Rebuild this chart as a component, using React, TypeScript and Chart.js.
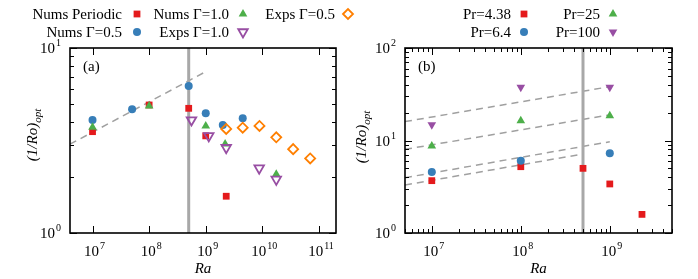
import React, { useEffect, useRef } from 'react';
import { Chart, registerables } from 'chart.js';
import { drawPoint } from 'chart.js/helpers';

Chart.register(...registerables);

const RED = '#e41a1c';
const BLUE = '#377eb8';
const GREEN = '#4daf4a';
const PURPLE = '#984ea3';
const ORANGE = '#ff7f00';
const GRAY = '#a8a8a8';
const DASH = '#a0a0a0';
const FONT = '"Liberation Serif", "Times New Roman", serif';

// ---------- Panel (a) data ----------
const aPeriodicRa = [1e7, 1e8, 5e8, 1e9, 2.3e9];
const aPeriodicRo = [3.53, 4.92, 4.72, 3.35, 1.58];
const aNumsG05Ra = [1e7, 5e7, 5e8, 1e9, 2e9, 4.5e9];
const aNumsG05Ro = [4.08, 4.66, 6.23, 4.44, 3.84, 4.17];
const aNumsG10Ra = [1e7, 1e8, 1e9, 2.2e9, 1.76e10];
const aNumsG10Ro = [3.73, 4.86, 3.79, 3.03, 2.08];
const aExpsG10Ra = [5.6e8, 1.13e9, 2.3e9, 8.8e9, 1.76e10];
const aExpsG10Ro = [4.08, 3.35, 2.89, 2.24, 1.95];
const aExpsG05Ra = [2.3e9, 4.5e9, 8.9e9, 1.76e10, 3.5e10, 7e10];
const aExpsG05Ro = [3.65, 3.71, 3.79, 3.29, 2.84, 2.53];
const aFitRa = [4e6, 9.2e8];
const aFitRo = [3.02, 7.35];
const aXRange = [4e6, 2e11];
const aYRange = [1, 10];
const aXExps = [7, 8, 9, 10, 11];
const aYExps = [0, 1];

// ---------- Panel (b) data ----------
const bPr438Ra = [1e7, 1e8, 5e8, 1e9, 2.3e9];
const bPr438Ro = [3.68, 5.21, 5.0, 3.39, 1.59];
const bRa = [1e7, 1e8, 1e9];
const bPr64Ro = [4.57, 6.05, 7.27];
const bPr25Ro = [8.72, 16.3, 18.5];
const bPr100Ro = [14.8, 37.6, 37.6];
const bFit1Ra = [5e6, 1e9];
const bFit1Ro = [16.0, 38.2];
const bFit2Ra = [5e6, 1e9];
const bFit2Ro = [8.03, 18.9];
const bFit3Ra = [5e6, 1e9];
const bFit3Ro = [3.96, 9.7];
const bFit4Ra = [5e6, 5e8];
const bFit4Ro = [3.3, 7.15];
const bXRange = [5e6, 5e9];
const bYRange = [1, 100];
const bXExps = [7, 8, 9];
const bYExps = [0, 1, 2];

const RaCrit = 5e8;

function pts(ra: number[], ro: number[]) {
  return ra.map((x, i) => ({ x, y: ro[i] }));
}

function marker(label: string, ra: number[], ro: number[], color: string, style: string, rot: number, radius: number, open: boolean, order: number) {
  return {
    label,
    data: pts(ra, ro),
    order,
    showLine: false,
    pointStyle: style,
    pointRotation: rot,
    pointRadius: radius,
    pointHoverRadius: radius,
    pointBackgroundColor: open ? 'rgba(0,0,0,0)' : color,
    pointBorderColor: color,
    pointBorderWidth: open ? 1.8 : 0,
    backgroundColor: open ? 'rgba(0,0,0,0)' : color,
    borderColor: color,
  };
}

function lineDs(ra: number[], ro: number[], color: string, width: number, dash: number[], order: number) {
  return {
    label: '',
    data: pts(ra, ro),
    order,
    showLine: true,
    pointRadius: 0,
    pointHoverRadius: 0,
    borderColor: color,
    borderWidth: width,
    borderDash: dash,
    backgroundColor: color,
  };
}

type Slot = { ds: number; tx: number; mx: number; y: number };
type Decor = {
  xExps: number[];
  yExps: number[];
  xMinor: boolean;
  yMinor: boolean;
  panel: string;
  yTitleX: number;
  yTitleY: number;
  legend: Slot[];
};

function decorPlugin(d: Decor) {
  return {
    id: 'decor',
    afterDraw(chart: any) {
      const ctx: CanvasRenderingContext2D = chart.ctx;
      const a = chart.chartArea;
      const xs = chart.scales.x;
      const ys = chart.scales.y;
      ctx.save();
      ctx.fillStyle = '#000';
      ctx.strokeStyle = '#000';
      ctx.lineWidth = 1;
      const seg = (x1: number, y1: number, x2: number, y2: number) => {
        ctx.beginPath();
        ctx.moveTo(x1, y1);
        ctx.lineTo(x2, y2);
        ctx.stroke();
      };
      const snap = (v: number) => Math.round(v) + 0.5;
      // x ticks
      const xlo = Math.floor(Math.log10(xs.min));
      const xhi = Math.ceil(Math.log10(xs.max));
      for (let n = xlo; n <= xhi; n++) {
        for (let m = 1; m <= 9; m++) {
          if (m > 1 && !d.xMinor) continue;
          const v = m * Math.pow(10, n);
          if (v < xs.min * 0.9999 || v > xs.max * 1.0001) continue;
          const px = snap(xs.getPixelForValue(v));
          const len = m === 1 ? 7 : 4;
          seg(px, a.bottom, px, a.bottom - len);
          seg(px, a.top, px, a.top + len);
        }
      }
      const ylo = Math.floor(Math.log10(ys.min));
      const yhi = Math.ceil(Math.log10(ys.max));
      for (let n = ylo; n <= yhi; n++) {
        for (let m = 1; m <= 9; m++) {
          if (m > 1 && !d.yMinor) continue;
          const v = m * Math.pow(10, n);
          if (v < ys.min * 0.9999 || v > ys.max * 1.0001) continue;
          const py = snap(ys.getPixelForValue(v));
          const len = m === 1 ? 7 : 4;
          seg(a.left, py, a.left + len, py);
          seg(a.right, py, a.right - len, py);
        }
      }
      // border
      ctx.lineWidth = 1.6;
      ctx.strokeRect(a.left, a.top, a.right - a.left, a.bottom - a.top);

      // tick labels
      const pow = (exp: number, x: number, y: number, align: string) => {
        ctx.font = `15px ${FONT}`;
        const w1 = ctx.measureText('10').width;
        ctx.font = `10px ${FONT}`;
        const w2 = ctx.measureText(String(exp)).width;
        const total = w1 + 1 + w2;
        const sx = align === 'center' ? x - total / 2 : x - total;
        ctx.textAlign = 'left';
        ctx.textBaseline = 'alphabetic';
        ctx.font = `15px ${FONT}`;
        ctx.fillText('10', sx, y);
        ctx.font = `10px ${FONT}`;
        ctx.fillText(String(exp), sx + w1 + 1, y - 7);
      };
      d.xExps.forEach((e) => {
        const px = xs.getPixelForValue(Math.pow(10, e));
        pow(e, px + 2, a.bottom + 23, 'center');
      });
      d.yExps.forEach((e) => {
        const py = ys.getPixelForValue(Math.pow(10, e));
        pow(e, a.left - 9, py + 5, 'right');
      });

      // panel letter
      ctx.font = `15px ${FONT}`;
      ctx.textAlign = 'left';
      ctx.fillText(d.panel, a.left + 13, a.top + 23);

      // x title
      ctx.font = `italic 15px ${FONT}`;
      ctx.textAlign = 'center';
      ctx.fillText('Ra', (a.left + a.right) / 2, 273);

      // y title
      ctx.save();
      ctx.translate(d.yTitleX, d.yTitleY);
      ctx.rotate(-Math.PI / 2);
      ctx.textAlign = 'left';
      ctx.font = `italic 15px ${FONT}`;
      const t1 = '(1/Ro)';
      const w1 = ctx.measureText(t1).width;
      ctx.font = `italic 11px ${FONT}`;
      const w2 = ctx.measureText('opt').width;
      const tot = w1 + w2;
      ctx.font = `italic 15px ${FONT}`;
      ctx.fillText(t1, -tot / 2, 5);
      ctx.font = `italic 11px ${FONT}`;
      ctx.fillText('opt', -tot / 2 + w1, 9);
      ctx.restore();

      // legend
      d.legend.forEach((s) => {
        const ds = chart.data.datasets[s.ds];
        ctx.font = `15px ${FONT}`;
        ctx.textAlign = 'right';
        ctx.fillStyle = '#000';
        ctx.fillText(ds.label, s.tx, s.y + 5);
        ctx.fillStyle = ds.pointBackgroundColor;
        ctx.strokeStyle = ds.pointBorderColor;
        ctx.lineWidth = ds.pointBorderWidth;
        drawPoint(ctx, {
          pointStyle: ds.pointStyle,
          rotation: ds.pointRotation,
          radius: ds.pointRadius,
          borderWidth: ds.pointBorderWidth,
        } as any, s.mx, s.y);
      });
      ctx.restore();
    },
  };
}

function baseOptions(xr: number[], yr: number[], padding: any) {
  return {
    responsive: false,
    animation: false as const,
    devicePixelRatio: 1,
    layout: { padding },
    plugins: { legend: { display: false }, tooltip: { enabled: false } },
    events: [] as any[],
    scales: {
      x: { type: 'logarithmic' as const, min: xr[0], max: xr[1], display: false },
      y: { type: 'logarithmic' as const, min: yr[0], max: yr[1], display: false },
    },
  };
}

function buildA(): any {
  const datasets = [
    marker('Nums Periodic', aPeriodicRa, aPeriodicRo, RED, 'rect', 0, 4.8, false, 5),
    marker('Nums Γ=1.0', aNumsG10Ra, aNumsG10Ro, GREEN, 'triangle', 0, 5, false, 3),
    marker('Exps Γ=0.5', aExpsG05Ra, aExpsG05Ro, ORANGE, 'rectRot', 0, 5, true, 1),
    marker('Nums Γ=0.5', aNumsG05Ra, aNumsG05Ro, BLUE, 'circle', 0, 4, false, 4),
    marker('Exps Γ=1.0', aExpsG10Ra, aExpsG10Ro, PURPLE, 'triangle', 180, 5.5, true, 2),
    lineDs([RaCrit, RaCrit], aYRange, GRAY, 3, [], 20),
    lineDs(aFitRa, aFitRo, DASH, 1.5, [7, 5], 21),
  ];
  return {
    type: 'scatter',
    data: { datasets },
    options: baseOptions(aXRange, aYRange, { left: 70, right: 24, top: 48, bottom: 46 }),
    plugins: [
      decorPlugin({
        xExps: aXExps,
        yExps: aYExps,
        xMinor: false,
        yMinor: true,
        panel: '(a)',
        yTitleX: 32,
        yTitleY: 135,
        legend: [
          { ds: 0, tx: 122, mx: 137, y: 14 },
          { ds: 1, tx: 229, mx: 243, y: 14 },
          { ds: 2, tx: 335, mx: 348, y: 14 },
          { ds: 3, tx: 122, mx: 137, y: 32 },
          { ds: 4, tx: 229, mx: 243, y: 32 },
        ],
      }),
    ],
  };
}

function buildB(): any {
  const datasets = [
    marker('Pr=4.38', bPr438Ra, bPr438Ro, RED, 'rect', 0, 4.8, false, 4),
    marker('Pr=25', bRa, bPr25Ro, GREEN, 'triangle', 0, 5, false, 2),
    marker('Pr=6.4', bRa, bPr64Ro, BLUE, 'circle', 0, 4, false, 3),
    marker('Pr=100', bRa, bPr100Ro, PURPLE, 'triangle', 180, 5, false, 1),
    lineDs([RaCrit, RaCrit], bYRange, GRAY, 3, [], 20),
    lineDs(bFit1Ra, bFit1Ro, DASH, 1.5, [7, 5], 21),
    lineDs(bFit2Ra, bFit2Ro, DASH, 1.5, [7, 5], 22),
    lineDs(bFit3Ra, bFit3Ro, DASH, 1.5, [7, 5], 23),
    lineDs(bFit4Ra, bFit4Ro, DASH, 1.5, [7, 5], 24),
  ];
  return {
    type: 'scatter',
    data: { datasets },
    options: baseOptions(bXRange, bYRange, { left: 56, right: 26, top: 48, bottom: 46 }),
    plugins: [
      decorPlugin({
        xExps: bXExps,
        yExps: bYExps,
        xMinor: true,
        yMinor: true,
        panel: '(b)',
        yTitleX: 12,
        yTitleY: 137,
        legend: [
          { ds: 0, tx: 162, mx: 175, y: 14 },
          { ds: 1, tx: 251, mx: 264, y: 14 },
          { ds: 2, tx: 162, mx: 175, y: 32 },
          { ds: 3, tx: 251, mx: 264, y: 32 },
        ],
      }),
    ],
  };
}

function Panel({ width, left, build }: { width: number; left: number; build: () => any }) {
  const ref = useRef<HTMLCanvasElement>(null);
  useEffect(() => {
    const chart = new Chart(ref.current as HTMLCanvasElement, build());
    return () => chart.destroy();
  }, []);
  return (
    <canvas
      ref={ref}
      width={width}
      height={279}
      style={{ position: 'absolute', left, top: 0, width, height: 279 }}
    />
  );
}

export default function App() {
  return (
    <div style={{ position: 'absolute', left: 0, top: 0, width: 698, height: 279, background: '#fff', overflow: 'hidden' }}>
      <Panel width={360} left={0} build={buildA} />
      <Panel width={349} left={349} build={buildB} />
    </div>
  );
}
